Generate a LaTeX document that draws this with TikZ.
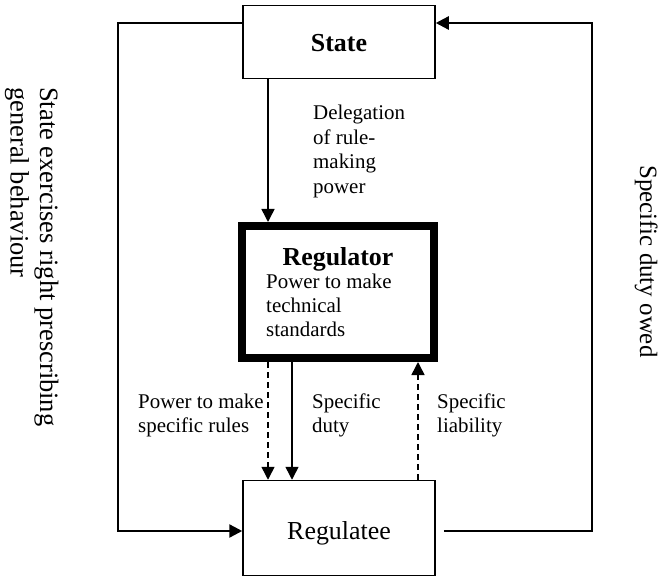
\documentclass[tikz,border=0pt]{standalone}
\usepackage{fontspec}
\setmainfont{Liberation Serif}
\usetikzlibrary{arrows.meta}

\begin{document}
\begin{tikzpicture}[x=1bp,y=-1bp,
  box/.style={draw, line width=1.5bp, minimum width=192bp, inner sep=0pt},
  tip/.style={-{Triangle[length=13bp,width=13bp]}},
  link/.style={line width=1.5bp},
  dashlink/.style={line width=1.5bp, dash pattern=on 6bp off 4bp},
  outer/.style={line width=2.4bp},
  lbl/.style={inner sep=0pt, font=\fontsize{21}{24.5}\selectfont},
  side/.style={inner sep=0pt, rotate=-90, anchor=base west}]
\useasboundingbox (0,0) rectangle (663,577);

% the three actors
\node[box, minimum height=73bp, text height=20bp, text depth=0pt,
      font=\bfseries\fontsize{26}{30}\selectfont] (state) at (339,42) {State};
\node[draw, line width=8bp, minimum width=192bp, minimum height=132bp,
      inner sep=0pt] (regulator) at (338,292) {};
\node[box, minimum height=95bp, text height=22bp, text depth=0pt,
      font=\fontsize{26}{30}\selectfont] (regulatee) at (339,528) {Regulatee};

% text inside the regulator box
\node[inner sep=0pt, anchor=base, font=\bfseries\fontsize{26}{30}\selectfont]
  (regname) at (338,265) {Regulator};
\node[lbl, anchor=base west] (regpower) at (266,288)
  {\begin{tabular}[t]{@{}l@{}}Power to make\\technical\\standards\end{tabular}};

% columns and rows used by the connectors
\coordinate (c1) at (268,0);
\coordinate (c2) at (292,0);
\coordinate (c3) at (418,0);
\coordinate (xl) at (118,0);
\coordinate (xr) at (592,0);
\coordinate (ytop) at (0,23);
\coordinate (ybot) at (0,531);
\coordinate (rs) at ([xshift=8bp]regulatee.east);

% delegation from the state to the regulator
\draw[link, tip] (state.south -| c1) -- (regulator.north -| c1);
\node[lbl, anchor=base west] (deleg) at (313,120)
  {\begin{tabular}[t]{@{}l@{}}Delegation\\of rule-\\making\\power\end{tabular}};

% links between regulator and regulatee
\draw[dashlink, tip] (regulator.south -| c1) -- (regulatee.north -| c1);
\draw[link, tip] (regulator.south -| c2) -- (regulatee.north -| c2);
\draw[dashlink, tip] (regulatee.north -| c3) -- (regulator.south -| c3);
\node[lbl, anchor=base west] (rules) at (138,408)
  {\begin{tabular}[t]{@{}l@{}}Power to make\\specific rules\end{tabular}};
\node[lbl, anchor=base west] (duty) at (312,408)
  {\begin{tabular}[t]{@{}l@{}}Specific\\duty\end{tabular}};
\node[lbl, anchor=base west] (liab) at (437,408)
  {\begin{tabular}[t]{@{}l@{}}Specific\\liability\end{tabular}};

% outer loops
\draw[outer, tip] (state.west |- ytop) -- (xl |- ytop) -- (xl |- ybot)
  -- (regulatee.west |- ybot);
\draw[outer, tip] (rs |- ybot) -- (xr |- ybot) -- (xr |- ytop)
  -- (state.east |- ytop);

% side captions
\node[side, font=\fontsize{26.6}{29.5}\selectfont] (general) at (40,87)
  {\begin{tabular}[t]{@{}l@{}}State exercises right prescribing\\general behaviour\end{tabular}};
\node[side, font=\fontsize{25}{29}\selectfont] (owed) at (640,165)
  {Specific duty owed};
\end{tikzpicture}
\end{document}
